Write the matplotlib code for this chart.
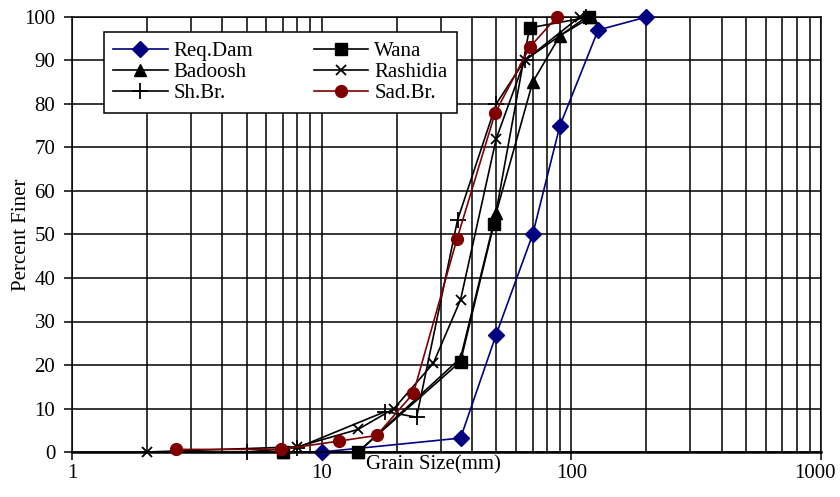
import matplotlib.pyplot as plt
import matplotlib.transforms as mtransforms
from matplotlib.ticker import LogLocator, NullFormatter, FixedLocator

# data (grain size in mm, percent finer)
req_x = [10, 36, 50, 70, 90, 128, 200]
req_y = [0, 3.2, 27, 50, 75, 97, 100]

wana_x = [7, 14, 36, 49, 68, 118]
wana_y = [0, 0, 20.8, 52.5, 97.5, 100]

bad_x = [7, 14, 36, 50, 70, 90, 120]
bad_y = [0, 0, 21.6, 55, 85, 95.7, 100]

rash_x = [2, 8, 14, 19.5, 28, 36, 50, 65, 108]
rash_y = [0, 1.2, 5.2, 10, 20.4, 35, 72, 90, 100]

shbr_x = [5, 8, 18, 24, 35, 50, 65, 115]
shbr_y = [0, 1, 9.3, 8, 53.3, 80, 90, 100]

sad_x = [2.6, 6.9, 11.7, 16.6, 23.3, 34.8, 49.5, 68, 87.5]
sad_y = [0.6, 0.6, 2.5, 3.8, 13.5, 48.9, 77.9, 93, 100]

x_ticks = [1, 10, 100, 1000]
y_ticks = list(range(0, 101, 10))

plt.rcParams['font.family'] = ['Liberation Serif', 'DejaVu Serif']

fig = plt.figure(figsize=(8.4, 4.97), dpi=100)
ax = fig.add_axes([72/840, 1-452/497, 749/840, 435/497])

lw = 1.2
h_req, = ax.plot(req_x, req_y, color='#000080', marker='D', markersize=8, lw=lw, label='Req.Dam', clip_on=False, zorder=3)
h_wana, = ax.plot(wana_x, wana_y, color='black', marker='s', markersize=8, lw=lw, label='Wana', clip_on=False, zorder=3)
h_bad, = ax.plot(bad_x, bad_y, color='black', marker='^', markersize=9, lw=lw, label='Badoosh', clip_on=False, zorder=3)
h_rash, = ax.plot(rash_x, rash_y, color='black', marker='x', markersize=7, mew=1.3, lw=lw, label='Rashidia', clip_on=False, zorder=3)
h_sh, = ax.plot(shbr_x, shbr_y, color='black', marker='+', markersize=12, mew=1.3, lw=lw, label='Sh.Br.', clip_on=False, zorder=3)
h_sad, = ax.plot(sad_x, sad_y, color='#800000', marker='o', markersize=8.5, lw=lw, label='Sad.Br.', clip_on=False, zorder=3)

ax.set_xscale('log')
ax.set_xlim(1, 1000)
ax.set_ylim(0, 100)
ax.xaxis.set_major_locator(FixedLocator(x_ticks))
ax.set_xticklabels([str(t) for t in x_ticks])
ax.xaxis.set_minor_locator(LogLocator(base=10, subs=range(2, 10)))
ax.xaxis.set_minor_formatter(NullFormatter())
ax.set_yticks(y_ticks)

ax.grid(True, which='both', axis='x', color='black', lw=1.1)
ax.grid(True, which='major', axis='y', color='black', lw=1.1)
ax.set_axisbelow(True)
ax.tick_params(axis='x', which='minor', length=0)
ax.tick_params(axis='both', which='major', direction='out', length=6, width=1.1,
               labelsize=15)
ax.tick_params(axis='x', which='major', pad=3)
ax.tick_params(axis='y', which='major', pad=6)
for s in ax.spines.values():
    s.set_linewidth(1.1)
ax.spines['bottom'].set_linewidth(1.8)

# nudge the "1000" label a little left so it stays inside the figure
last = ax.get_xticklabels()[-1]
last.set_transform(last.get_transform() + mtransforms.ScaledTranslation(-6/100, 0, fig.dpi_scale_trans))

ax.set_ylabel('Percent Finer', fontsize=15, va='center')
ax.yaxis.set_label_coords(-0.068, 0.5)
ax.set_xlabel('Grain Size(mm)', fontsize=15, va='center')
ax.xaxis.set_label_coords(0.483, -0.03)

leg = ax.legend(handles=[h_req, h_bad, h_sh, h_wana, h_rash, h_sad], ncol=2,
                loc='upper left', bbox_to_anchor=((104-72)/749, (452-32)/435),
                fontsize=15, frameon=True, fancybox=False, framealpha=1,
                edgecolor='black', borderpad=0.45, handlelength=2.6,
                handletextpad=0.3, columnspacing=2.9, labelspacing=0.08,
                borderaxespad=0)
leg.get_frame().set_linewidth(1.1)

fig.savefig('out.png', dpi=100)
